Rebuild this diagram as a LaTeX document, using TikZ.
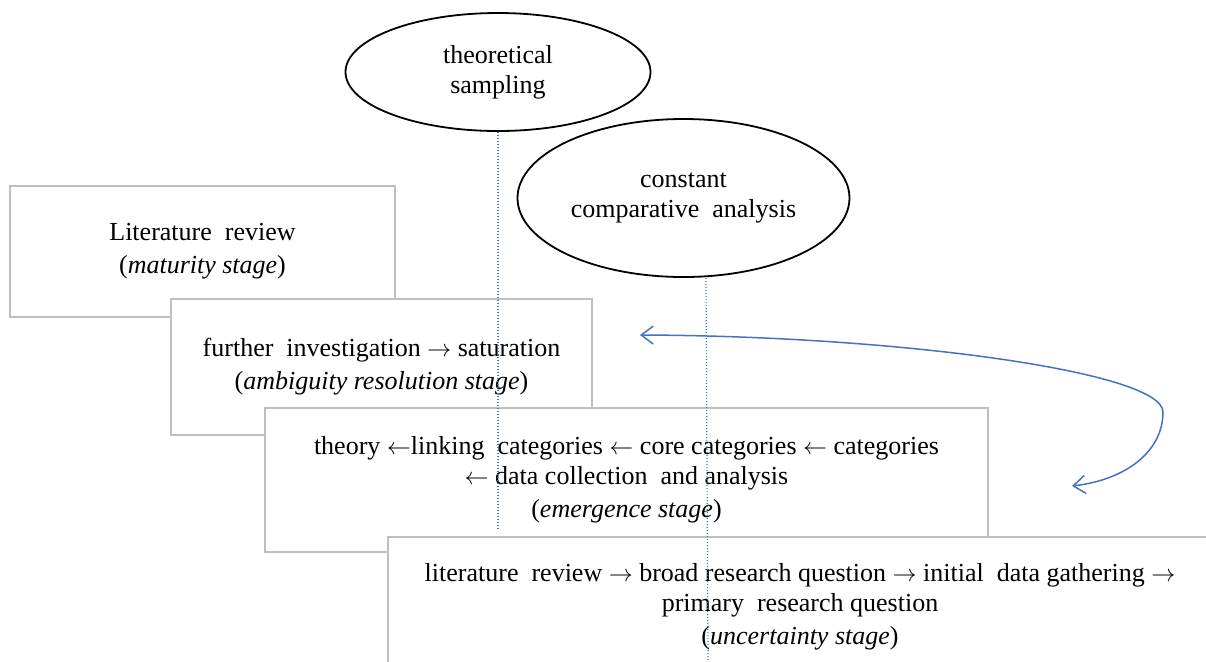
\documentclass[tikz,border=0pt]{standalone}
\usepackage{fontspec}
\setmainfont{Liberation Serif}
\usetikzlibrary{shapes.geometric,arrows.meta}
\definecolor{linkblue}{HTML}{4472C4}
\newcommand{\toright}{\ensuremath{\rightarrow}}
\newcommand{\toleft}{\ensuremath{\leftarrow}}
\tikzset{stage/.style={draw=black!25, line width=0.75pt, fill=white, align=center, inner sep=0pt, font=\fontsize{13}{15}\selectfont},
  process/.style={ellipse, draw=black, line width=0.9pt, fill=white, align=center, inner sep=0pt, font=\fontsize{13}{15}\selectfont},
  guide/.style={linkblue, line width=0.6pt, dash pattern=on 0.6pt off 0.9pt},
  feedback/.style={linkblue, line width=0.75pt, {Straight Barb[length=6pt,width=9pt]}-{Straight Barb[length=6pt,width=9pt]}}}

\begin{document}
\begin{tikzpicture}[x=0.5pt, y=-0.5pt]
  \clip (0,0) rectangle (1206,661);
  \fill[white] (0,0) rectangle (1206,661);
  \node[stage, minimum width=192.5pt, minimum height=65.5pt] (maturity) at (202.5,251.5)
    {Literature\ \ review\\[1.5pt](\textit{maturity stage})};
  \node[stage, minimum width=210.5pt, minimum height=68pt] (ambiguity) at (381.5,367)
    {further\ \ investigation \toright\ saturation\\[1.5pt](\textit{ambiguity resolution stage})};
  \node[stage, minimum width=361.5pt, minimum height=72pt] (emergence) at (626.5,480)
    {theory \toleft linking\ \ categories \toleft\ core categories \toleft\ categories\\
     \toleft\ data collection\ \ and analysis\\[1.5pt](\textit{emergence stage})};
  \node[stage, minimum width=412pt, minimum height=70pt] (uncertainty) at (800,607)
    {literature\ \ review \toright\ broad research question \toright\ initial\ \ data gathering \toright\\
     primary\ \ research question\\[1.5pt](\textit{uncertainty stage})};
  \node[process, minimum width=152.5pt, minimum height=59pt] (sampling) at (498,72)
    {theoretical\\sampling};
  \node[process, minimum width=166pt, minimum height=79pt] (comparison) at (683.5,198)
    {constant\\comparative\ \ analysis};
  \coordinate (feedbackhead) at (640,335);
  \coordinate (feedbacktail) at (1072,486);
  \draw[feedback] (feedbackhead) .. controls (900,336) and (1163,372) .. (1163,412)
    .. controls (1163,452) and (1125,480) .. (feedbacktail);
  \coordinate (samplingend) at (498,529);
  \coordinate (comparisontop) at (706,278);
  \coordinate (comparisonend) at (708,661);
  \draw[guide] (sampling.south) -- (samplingend);
  \draw[guide] (comparisontop) -- (comparisonend);
\end{tikzpicture}
\end{document}
